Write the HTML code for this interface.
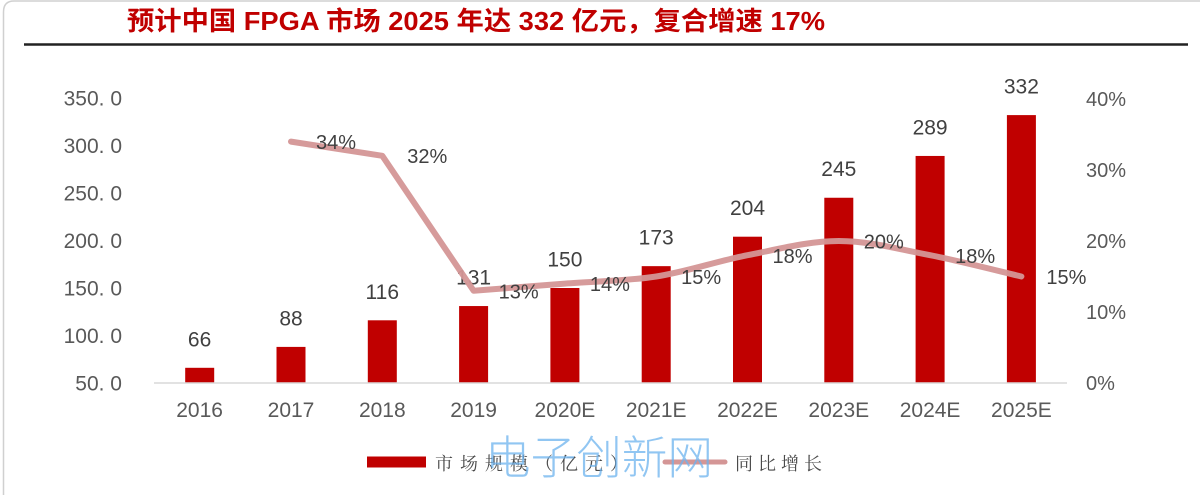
<!DOCTYPE html>
<html>
<head>
<meta charset="utf-8">
<style>
  html,body{margin:0;padding:0;background:#fff;}
  body{width:1200px;height:495px;overflow:hidden;}
  svg{display:block;}
  .ax{font-family:"Liberation Sans","Noto Sans CJK SC",sans-serif;fill:#595959;}
  .val{font-family:"Liberation Sans","Noto Sans CJK SC",sans-serif;fill:#404040;font-size:21px;text-anchor:middle;}
  .pct{font-family:"Liberation Sans","Noto Sans CJK SC",sans-serif;fill:#404040;font-size:20px;text-anchor:middle;}
  .leg{font-family:"Liberation Serif","Noto Serif CJK SC",serif;fill:#4a4a4a;font-size:18px;letter-spacing:5px;}
</style>
</head>
<body>
<svg width="1200" height="495" viewBox="0 0 1200 495" xmlns="http://www.w3.org/2000/svg">
  <!-- frame -->
  <path d="M3.5 495 L3.5 12 Q3.5 1 14 1 L1200 1" fill="none" stroke="#d0d0d0" stroke-width="1.5"/>

  <!-- title -->
  <text x="127" y="30" font-family="'Liberation Sans','Noto Sans CJK SC',sans-serif" font-weight="bold" font-size="26" fill="#c00000" textLength="698" lengthAdjust="spacingAndGlyphs">预计中国 FPGA 市场 2025 年达 332 亿元，复合增速 17%</text>
  <line x1="24" y1="44.5" x2="1188" y2="44.5" stroke="#222" stroke-width="2.5"/>

  <!-- left axis labels -->
  <g class="ax" font-size="21" text-anchor="end">
    <text x="122" y="105.5">350. 0</text>
    <text x="122" y="153">300. 0</text>
    <text x="122" y="200.5">250. 0</text>
    <text x="122" y="248">200. 0</text>
    <text x="122" y="295.5">150. 0</text>
    <text x="122" y="343">100. 0</text>
    <text x="122" y="390.5">50. 0</text>
  </g>

  <!-- right axis labels -->
  <g class="ax" font-size="20" text-anchor="start">
    <text x="1086" y="106">40%</text>
    <text x="1086" y="177">30%</text>
    <text x="1086" y="248">20%</text>
    <text x="1086" y="319">10%</text>
    <text x="1086" y="390">0%</text>
  </g>

  <!-- bars -->
  <g fill="#c00000">
    <rect x="185.2" y="367.8" width="29" height="15.2"/>
    <rect x="276.5" y="346.9" width="29" height="36.1"/>
    <rect x="367.8" y="320.3" width="29" height="62.7"/>
    <rect x="459.1" y="306.05" width="29" height="76.95"/>
    <rect x="550.4" y="288" width="29" height="95"/>
    <rect x="641.7" y="266.15" width="29" height="116.85"/>
    <rect x="733" y="236.7" width="29" height="146.3"/>
    <rect x="824.3" y="197.75" width="29" height="185.25"/>
    <rect x="915.6" y="155.95" width="29" height="227.05"/>
    <rect x="1006.9" y="115.1" width="29" height="267.9"/>
  </g>

  <!-- x axis line -->
  <line x1="154" y1="383" x2="1067" y2="383" stroke="#d9d9d9" stroke-width="1.5"/>

  <!-- x labels -->
  <g class="ax" font-size="21" text-anchor="middle">
    <text x="199.6" y="417">2016</text>
    <text x="291" y="417">2017</text>
    <text x="382.3" y="417">2018</text>
    <text x="473.6" y="417">2019</text>
    <text x="564.9" y="417">2020E</text>
    <text x="656.2" y="417">2021E</text>
    <text x="747.5" y="417">2022E</text>
    <text x="838.8" y="417">2023E</text>
    <text x="930.1" y="417">2024E</text>
    <text x="1021.4" y="417">2025E</text>
  </g>

  <!-- bar value labels -->
  <g class="val">
    <text x="199.6" y="346.3">66</text>
    <text x="291" y="325.4">88</text>
    <text x="382.3" y="298.8">116</text>
    <text x="473.6" y="284.5">131</text>
    <text x="564.9" y="266.5">150</text>
    <text x="656.2" y="244.6">173</text>
    <text x="747.5" y="215.2">204</text>
    <text x="838.8" y="176.2">245</text>
    <text x="930.1" y="134.4">289</text>
    <text x="1021.4" y="93.6">332</text>
  </g>

  <!-- growth line -->
  <path d="M291 141.6 L382.3 155.8 L473.6 290.7 L564.9 283.6
           C595.3 281.2 625.8 281.2 656.2 276.5
           C686.6 271.8 717.1 261.1 747.5 255.2
           C777.9 249.3 808.4 241 838.8 241
           C869.2 241 899.7 249.3 930.1 255.2
           C960.5 261.1 1006.2 273 1021.4 276.5"
        fill="none" stroke="#d49696" stroke-width="6" stroke-linejoin="round" stroke-linecap="round" opacity="0.95"/>

  <!-- percent labels -->
  <g class="pct">
    <text x="336" y="149">34%</text>
    <text x="427.3" y="163">32%</text>
    <text x="518.6" y="298.5">13%</text>
    <text x="609.9" y="291">14%</text>
    <text x="701.2" y="284">15%</text>
    <text x="792.5" y="263">18%</text>
    <text x="883.8" y="248.5">20%</text>
    <text x="975.1" y="263">18%</text>
    <text x="1066.4" y="284">15%</text>
  </g>

  <!-- legend -->
  <rect x="367" y="456.5" width="59" height="11" fill="#c00000"/>
  <text class="leg" x="435" y="470" style="letter-spacing:7px">市场规模（亿元）</text>
  <line x1="665" y1="462" x2="725" y2="462" stroke="#d49696" stroke-width="5" stroke-linecap="round"/>
  <text class="leg" x="735" y="470">同比增长</text>

  <!-- watermark -->
  <text x="485" y="474" font-family="'Noto Sans CJK SC','WenQuanYi Zen Hei',sans-serif" font-weight="300" font-size="46" fill="#6db3ee" opacity="0.75" textLength="228" lengthAdjust="spacingAndGlyphs">电子创新网</text>
</svg>
</body>
</html>
